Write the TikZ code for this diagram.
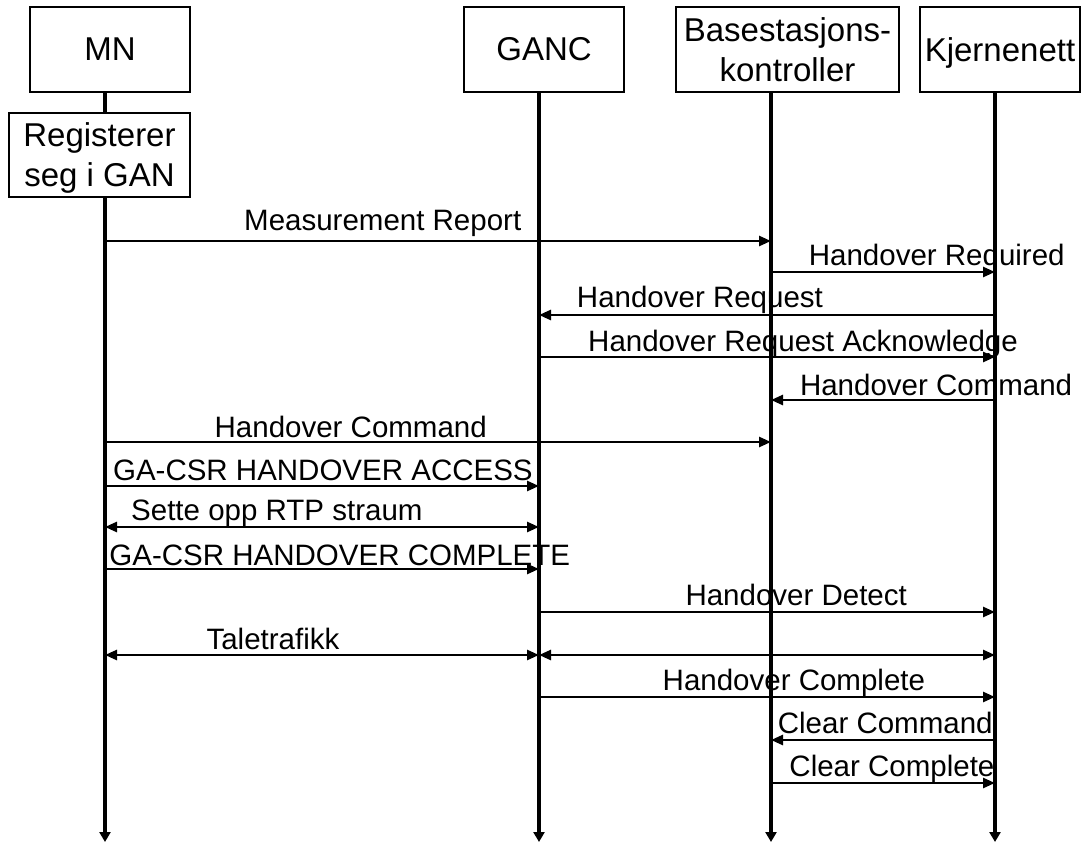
\documentclass[tikz,border=0pt]{standalone}
\usepackage{fontspec}
\setmainfont{Liberation Sans}
\usetikzlibrary{arrows.meta,positioning}

\begin{document}
\begin{tikzpicture}[x=1pt,y=-1pt,
  font=\fontsize{29.5}{34}\selectfont,
  head/.style={draw,line width=2.7pt,minimum height=85pt,inner sep=2pt,align=center,font=\fontsize{33}{40}\selectfont},
  life/.style={line width=3.1pt},
  msg/.style={line width=2.6pt,-{Triangle[length=12pt,width=10pt]}},
  both/.style={line width=2.6pt,{Triangle[length=12pt,width=10pt]}-{Triangle[length=12pt,width=10pt]}},
  lbl/.style={anchor=base,inner sep=0pt,yshift=#1},lbl/.default=6pt]
\fill[white] (0,0) rectangle (1085,843);
\useasboundingbox (0,0) rectangle (1085,843);

% heads
\node[head,minimum width=160pt] (mn) at (110,49.5) {MN};
\node[head,minimum width=160pt] (ganc) at (544,49.5) {GANC};
\node[head,minimum width=223pt] (bsc) at (787.5,49.5) {Basestasjons-\\kontroller};
\node[head,minimum width=160pt,text depth=0pt] (kj) at (1000,49.5) {Kjernenett};
\node[head,minimum width=181pt,minimum height=84pt,text depth=0pt] (reg) at (99.5,155) {Registerer\\seg i GAN};

% points on the lifelines
\foreach \l/\xx in {mn/105,ganc/539,bsc/771,kj/995}{
  \coordinate (\l-end) at (\xx,842);
  \foreach \r/\yy in {1/241,2/272,3/315,4/357,5/400,6/442,7/486,8/527,9/569,10/612,11/655,12/697,13/740,14/783}
    \coordinate (\l-\r) at (\xx,\yy);
}

% lifelines
\draw[life] (mn.south -| mn-1) -- (reg.north -| mn-1);
\draw[life,-{Triangle[length=10pt,width=11pt]}] (reg.south -| mn-1) -- (mn-end);
\draw[life,-{Triangle[length=10pt,width=11pt]}] (ganc.south -| ganc-1) -- (ganc-end);
\draw[life,-{Triangle[length=10pt,width=11pt]}] (bsc.south -| bsc-1) -- (bsc-end);
\draw[life,-{Triangle[length=10pt,width=11pt]}] (kj.south -| kj-1) -- (kj-end);

% messages
\draw[msg] (mn-1) -- node[lbl=11pt,pos=.417] (t1) {Measurement Report} (bsc-1);
\draw[msg] (bsc-2) -- node[lbl=7pt,pos=.74] (t2) {Handover Required} (kj-2);
\draw[msg] (kj-3) -- node[lbl=8pt,pos=.647] (t3) {Handover Request} (ganc-3);
\draw[msg] (ganc-4) -- node[lbl,pos=.579] (t4) {Handover Request Acknowledge} (kj-4);
\draw[msg] (kj-5) -- node[lbl=5pt,pos=.263] (t5) {Handover Command} (bsc-5);
\draw[msg] (mn-6) -- node[lbl=5pt,pos=.369] (t6) {Handover Command} (bsc-6);
\draw[msg] (mn-7) -- node[lbl,pos=.502] (t7) {GA-CSR HANDOVER ACCESS} (ganc-7);
\draw[both] (mn-8) -- node[lbl=7pt,pos=.396] (t8) {Sette opp RTP straum} (ganc-8);
\draw[msg] (mn-9) -- node[lbl=4pt,pos=.541] (t9) {GA-CSR HANDOVER COMPLETE} (ganc-9);
\draw[msg] (ganc-10) -- node[lbl=7pt,pos=.564] (t10) {Handover Detect} (kj-10);
\draw[both] (mn-11) -- node[lbl,pos=.387] (t11) {Taletrafikk} (ganc-11);
\draw[both] (ganc-11) -- (kj-11);
\draw[msg] (ganc-12) -- node[lbl=7pt,pos=.559] (t12) {Handover Complete} (kj-12);
\draw[msg] (kj-13) -- node[lbl=7pt,pos=.49] (t13) {Clear Command} (bsc-13);
\draw[msg] (bsc-14) -- node[lbl=7pt,pos=.54] (t14) {Clear Complete} (kj-14);
\end{tikzpicture}
\end{document}
